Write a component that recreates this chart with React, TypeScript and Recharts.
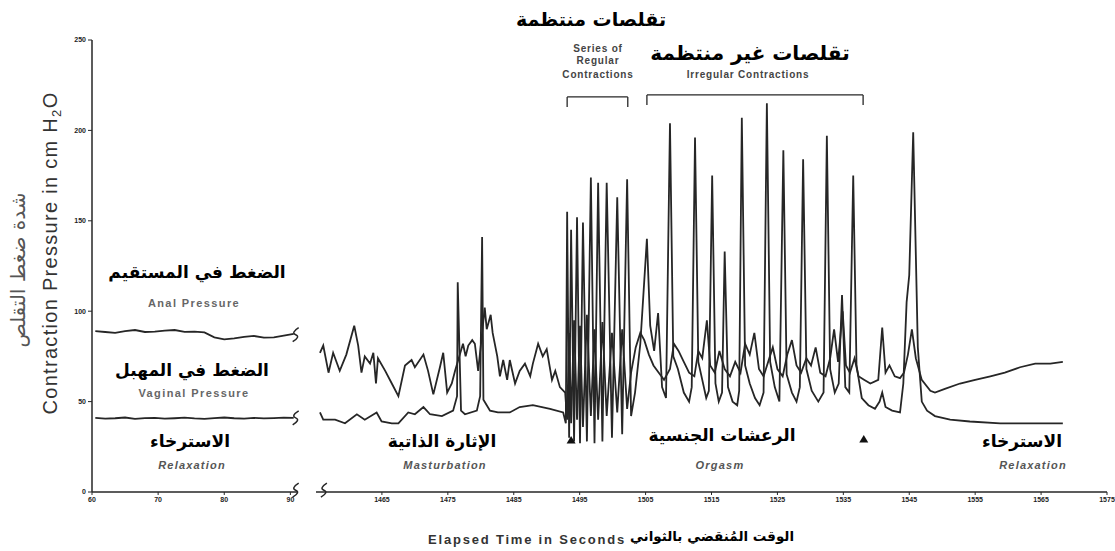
import { LineChart, Line, XAxis, YAxis, ReferenceLine, ReferenceDot } from "recharts";

// left segment (first seconds of the recording)
const leftTimes = [60.5, 62, 63.5, 65, 66.5, 68, 69.5, 71, 72.5, 74, 75.5, 77, 78.5, 80, 81.5, 83, 84.5, 86, 87.5, 89, 90.5];
const leftAnal = [89, 88.5, 88, 89, 89.6, 88.5, 88.7, 89.3, 89.6, 88.6, 88.7, 88.3, 85.5, 84.4, 85, 85.8, 86.3, 85.4, 85.5, 86.5, 87.5];
const leftVaginal = [41, 40.6, 40.8, 41.2, 40.5, 40.9, 41, 40.6, 40.8, 41.1, 40.7, 40.5, 40.9, 41.2, 40.8, 40.6, 41, 40.7, 40.9, 41.1, 41];
const leftTicks = [60, 70, 80, 90];

// right segment
const analTimes = [
  1455.6, 1456.1, 1456.9, 1457.6, 1458.6, 1459.6, 1460.8, 1461.4, 1461.9, 1462.4, 1463.2, 1463.7, 1464.1, 1464.4,
  1465.5, 1466.5, 1467.5, 1468.5, 1469.5, 1470.0, 1471.3, 1472.0, 1472.8, 1473.8, 1474.3, 1474.9, 1475.6, 1476.1,
  1477.3, 1477.7, 1478.1, 1478.7, 1479.1, 1479.6, 1480.6, 1480.9, 1481.5, 1481.8, 1482.5, 1482.9, 1483.4, 1484.0,
  1484.4, 1485.2, 1485.9, 1486.7, 1487.5, 1487.9, 1488.7, 1489.4, 1490.0, 1490.8, 1491.3, 1492.0, 1492.8,
  1493.1, 1493.4, 1493.7, 1494.15, 1494.6, 1495.05, 1495.5, 1496.1, 1496.7, 1497.25, 1497.8, 1498.45, 1499.1,
  1499.9, 1500.7, 1501.45, 1502.2, 1502.8,
  1503.5, 1504.2, 1504.8, 1505.5, 1506.2, 1507.0, 1507.8, 1508.7, 1509.3, 1510.0, 1510.8, 1511.6, 1512.4, 1513.0,
  1513.6, 1514.3, 1514.8, 1515.5, 1516.2, 1517.0, 1517.8, 1518.6, 1519.4, 1520.1, 1520.8, 1521.5, 1522.2, 1522.9,
  1523.6, 1524.3, 1525.0, 1525.8, 1526.5, 1527.2, 1527.9, 1528.6, 1529.4, 1530.1, 1530.8, 1531.5, 1532.3, 1533.0,
  1533.6, 1534.2, 1534.9, 1535.4, 1536.0, 1536.7, 1537.3, 1538.2, 1539.1, 1540.3, 1540.9, 1541.4, 1542.0, 1542.8,
  1543.6, 1544.2, 1544.8, 1545.4, 1546.0, 1546.9, 1548.2, 1548.9, 1550.4, 1552.7, 1555.0, 1557.3, 1559.5, 1561.8,
  1564.1, 1566.4, 1568.3,
];
const analValues = [
  77, 81, 66, 77, 67, 76, 92, 81, 66, 75, 71, 77, 60, 74,
  67, 60, 53, 70, 73, 69, 76, 67, 54, 69, 77, 55, 60, 67,
  82, 75, 81, 84, 82, 67, 102, 90, 98, 88, 75, 64, 73, 62,
  73, 60, 67, 71, 64, 71, 82, 75, 79, 62, 67, 58, 55,
  40, 88, 38, 95, 40, 92, 36, 98, 42, 90, 40, 94, 42,
  88, 44, 90, 46, 66,
  80, 88, 84, 76, 70, 66, 62, 68, 82, 78, 72, 66, 64, 78,
  74, 95, 70, 66, 78, 68, 64, 72, 66, 82, 76, 88, 68, 64,
  72, 80, 68, 64, 76, 84, 70, 66, 74, 70, 80, 66, 64, 74,
  90, 72, 100, 70, 66, 74, 64, 62, 60, 62, 91, 66, 70, 64,
  63, 66, 76, 90, 74, 62, 56, 55, 57, 60, 62, 64, 66, 69,
  71, 71, 72,
];

const vaginalTimes = [
  1455.6, 1456.1, 1457.9, 1459.4, 1461.2, 1462.4, 1464.2, 1464.95, 1466.5, 1467.5, 1469.0, 1470.0, 1471.3, 1472.3,
  1474.1, 1475.8, 1476.4, 1476.5, 1477.0, 1477.6, 1479.4, 1479.9, 1480.2, 1480.4, 1481.4, 1482.6, 1484.4, 1485.9,
  1487.9, 1490.5, 1492.5,
  1492.9, 1493.1, 1493.4, 1493.7, 1494.15, 1494.6, 1495.05, 1495.5, 1496.1, 1496.7, 1497.25, 1497.8, 1498.45,
  1499.1, 1499.9, 1500.7, 1501.45, 1502.2, 1502.8,
  1503.4, 1504.2, 1505.2, 1505.7, 1506.3, 1506.9, 1507.5, 1508.1, 1508.7, 1509.2, 1509.9, 1510.8, 1511.6, 1512.0,
  1512.5, 1513.0, 1513.6, 1514.2, 1514.6, 1515.1, 1515.6, 1516.1, 1516.6, 1517.0, 1517.5, 1518.2, 1518.9, 1519.2,
  1519.6, 1520.1, 1520.8, 1521.6, 1522.3, 1522.9, 1523.4, 1523.9, 1524.6, 1525.3, 1525.9, 1526.4, 1527.2, 1527.9,
  1528.4, 1528.9, 1529.4, 1530.2, 1531.2, 1532.0, 1532.5, 1533.0, 1533.7, 1534.3, 1534.8, 1535.3, 1535.9, 1536.5,
  1537.0, 1537.8, 1538.8, 1539.8, 1540.5, 1540.9, 1541.4, 1542.4, 1543.6, 1544.1, 1544.6, 1545.0, 1545.6, 1546.3,
  1546.9, 1547.7, 1548.9, 1551.2, 1554.2, 1558.8, 1563.3, 1568.3,
];
const vaginalValues = [
  44, 40, 40, 38, 43, 40, 44, 39, 38, 38, 44, 43, 47, 43,
  42, 45, 53, 116, 45, 43, 45, 53, 141, 51, 45, 44, 44, 47,
  48, 46, 44,
  38, 155, 30, 145, 28, 152, 27, 149, 28, 174, 27, 171, 28,
  171, 30, 163, 32, 173, 42,
  55, 82, 140, 92, 78, 99, 58, 52, 204, 75, 68, 55, 50, 58,
  196, 72, 62, 52, 56, 175, 60, 50, 55, 133, 58, 50, 48, 56,
  207, 70, 60, 52, 48, 55, 215, 72, 58, 50, 189, 65, 55, 50,
  58, 184, 68, 56, 50, 55, 197, 68, 55, 60, 109, 58, 55, 175,
  70, 52, 48, 46, 50, 55, 47, 45, 44, 60, 105, 120, 199, 80,
  50, 45, 42, 40, 39, 38, 38, 38,
];
const rightTicks = [1465, 1475, 1485, 1495, 1505, 1515, 1525, 1535, 1545, 1555, 1565, 1575];
const yTicks = [0, 50, 100, 150, 200, 250];

const pts = (ts: number[], vs: number[]) => ts.map((t, i) => ({ t, v: vs[i] }));

const ink = "#262626";
const tickStyle = { fontSize: 7, fontWeight: 700, fill: "#222", fontFamily: "Liberation Sans, Arial, sans-serif" };
const arabic = "'DejaVu Sans', 'Noto Sans', sans-serif";
const latin = "'Liberation Sans', Arial, sans-serif";

const BreakMark = (props: any) => {
  const { cx, cy } = props;
  if (cx == null || cy == null) return null;
  return (
    <path
      d={`M${cx - 3},${cy + 7} Q${cx + 5},${cy + 2} ${cx},${cy} Q${cx - 5},${cy - 2} ${cx + 3},${cy - 7}`}
      fill="none"
      stroke={ink}
      strokeWidth={1.5}
    />
  );
};

const Triangle = (props: any) => {
  const { cx, cy } = props;
  if (cx == null || cy == null) return null;
  return <path d={`M${cx},${cy - 4} L${cx + 4.5},${cy + 3.5} L${cx - 4.5},${cy + 3.5} Z`} fill="#111" />;
};

const seg = (x1: number, y1: number, x2: number, y2: number) => [
  { x: x1, y: y1 },
  { x: x2, y: y2 },
];

export default function App() {
  const line = { type: "linear" as const, dataKey: "v", dot: false, stroke: ink, strokeWidth: 1.8, isAnimationActive: false };
  return (
    <div style={{ position: "absolute", left: 0, top: 0, width: 1115, height: 551, background: "#fff" }}>
      <div style={{ position: "absolute", left: 0, top: 0 }}>
        <LineChart width={310} height={551} margin={{ top: 40, right: 13, bottom: 39, left: 0 }}>
          <XAxis
            dataKey="t"
            type="number"
            domain={[60, 91]}
            ticks={leftTicks}
            tick={tickStyle}
            tickSize={3}
            height={20}
            axisLine={{ stroke: ink, strokeWidth: 1.5 }}
            tickLine={{ stroke: ink }}
            allowDataOverflow
          />
          <YAxis
            type="number"
            domain={[0, 250]}
            ticks={yTicks}
            tick={tickStyle}
            tickSize={4}
            width={92}
            axisLine={{ stroke: ink, strokeWidth: 1.5 }}
            tickLine={{ stroke: ink }}
          />
          <Line {...line} data={pts(leftTimes, leftAnal)} />
          <Line {...line} data={pts(leftTimes, leftVaginal)} />
          <ReferenceDot x={90.8} y={87} r={0} shape={BreakMark} />
          <ReferenceDot x={90.8} y={41} r={0} shape={BreakMark} />
          <ReferenceDot x={90.8} y={1} r={0} shape={BreakMark} />
        </LineChart>
      </div>
      <div style={{ position: "absolute", left: 300, top: 0 }}>
        <LineChart width={815} height={551} margin={{ top: 40, right: 8, bottom: 39, left: 16 }}>
          <XAxis
            dataKey="t"
            type="number"
            domain={[1455, 1575]}
            ticks={rightTicks}
            tick={tickStyle}
            tickSize={3}
            height={20}
            axisLine={{ stroke: ink, strokeWidth: 1.5 }}
            tickLine={{ stroke: ink }}
            allowDataOverflow
          />
          <YAxis hide type="number" domain={[0, 250]} />
          <Line {...line} data={pts(vaginalTimes, vaginalValues)} />
          <Line {...line} data={pts(analTimes, analValues)} />
          <ReferenceDot x={1456.2} y={1} r={0} shape={BreakMark} />
          {/* brackets */}
          <ReferenceLine segment={seg(1493.1, 218.5, 1502.3, 218.5)} stroke={ink} strokeWidth={1.3} />
          <ReferenceLine segment={seg(1493.1, 218.5, 1493.1, 213)} stroke={ink} strokeWidth={1.3} />
          <ReferenceLine segment={seg(1502.3, 218.5, 1502.3, 213)} stroke={ink} strokeWidth={1.3} />
          <ReferenceLine segment={seg(1505.2, 219.6, 1538.0, 219.6)} stroke={ink} strokeWidth={1.3} />
          <ReferenceLine segment={seg(1505.2, 219.6, 1505.2, 214)} stroke={ink} strokeWidth={1.3} />
          <ReferenceLine segment={seg(1538.0, 219.6, 1538.0, 214)} stroke={ink} strokeWidth={1.3} />
          <ReferenceDot x={1493.7} y={28.8} r={0} shape={Triangle} />
          <ReferenceDot x={1538.1} y={29.3} r={0} shape={Triangle} />
        </LineChart>
      </div>
      <svg width={1115} height={551} style={{ position: "absolute", left: 0, top: 0, pointerEvents: "none" }}>
        <g fontFamily={latin} fill="#333">
          <text x={57} y={253} transform="rotate(-90 57 253)" textAnchor="middle" fontSize={20} letterSpacing={1.3}>
            Contraction Pressure in cm H<tspan fontSize={13} dy={4}>2</tspan>
            <tspan dy={-4}>O</tspan>
          </text>
        </g>
        <text x={25} y={270} transform="rotate(-90 25 270)" textAnchor="middle" fontSize={20} fontFamily={arabic} fill="#555">
          شدة ضغط التقلص
        </text>
        <g fontFamily={arabic} fontWeight={700} fill="#000" textAnchor="middle">
          <text x={591} y={26} fontSize={19}>تقلصات منتظمة</text>
          <text x={750} y={60} fontSize={20}>تقلصات غير منتظمة</text>
          <text x={197} y={278} fontSize={17}>الضغط في المستقيم</text>
          <text x={192} y={376} fontSize={17}>الضغط في المهبل</text>
          <text x={190} y={447} fontSize={17}>الاسترخاء</text>
          <text x={442} y={447} fontSize={17}>الإثارة الذاتية</text>
          <text x={722} y={441} fontSize={17}>الرعشات الجنسية</text>
          <text x={1022} y={447} fontSize={17}>الاسترخاء</text>
          <text x={712} y={541} fontSize={13.5}>الوقت المُنقضي بالثواني</text>
        </g>
        <g fontFamily={latin} fontWeight={700} fill="#444" textAnchor="middle" fontSize={10} letterSpacing={0.8}>
          <text x={598} y={52}>Series of</text>
          <text x={598} y={64}>Regular</text>
          <text x={598} y={78}>Contractions</text>
          <text x={748} y={78}>Irregular Contractions</text>
          <text x={194} y={307} fontSize={11} letterSpacing={1.4} fill="#666">Anal Pressure</text>
          <text x={194} y={397} fontSize={11} letterSpacing={1.4} fill="#666">Vaginal Pressure</text>
          <g fontStyle="italic" fontSize={11} letterSpacing={1.2} fill="#555">
            <text x={192} y={469}>Relaxation</text>
            <text x={445} y={469}>Masturbation</text>
            <text x={720} y={469}>Orgasm</text>
            <text x={1033} y={469}>Relaxation</text>
          </g>
          <text x={527} y={544} fontSize={13} letterSpacing={1.8} fill="#333">Elapsed Time in Seconds</text>
        </g>
      </svg>
    </div>
  );
}
